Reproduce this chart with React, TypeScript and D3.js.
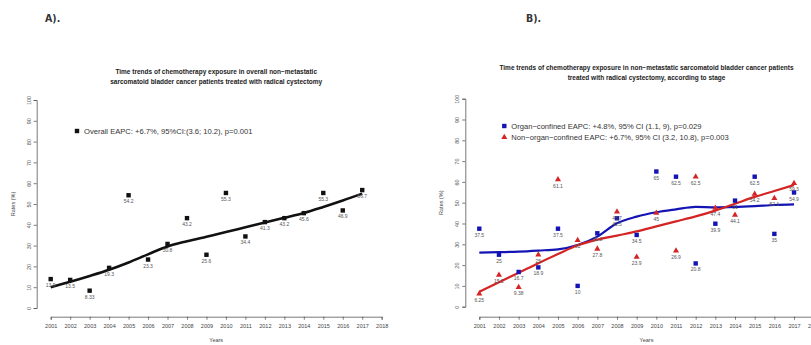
import { useEffect, useRef } from "react";
import * as d3 from "d3";

const svg_width = 811;
const svg_height = 345;

const years = d3.range(2001, 2018);
const x_ticks = d3.range(2001, 2019);
const y_ticks = d3.range(0, 101, 10);

// panel A: overall
const overall = [13.9, 13.5, 8.33, 19.3, 54.2, 23.3, 30.8, 43.2, 25.6, 55.3, 34.4, 41.3, 43.2, 45.6, 55.3, 46.9, 56.7];
const overall_fit = [10, 12.6, 15.4, 18.4, 21.9, 25.8, 29.6, 32.1, 34.3, 36.5, 38.8, 41.1, 43.4, 45.7, 48.6, 51.7, 55];

// panel B: by stage
const organ = [37.5, 25, 16.7, 18.9, 37.5, 10, 35.3, 42.5, 34.5, 65, 62.5, 20.8, 39.9, 51, 62.5, 35, 54.9];
const organ_fit = [26, 26.2, 26.5, 27, 27.6, 29.7, 33.7, 40.1, 43.3, 45.4, 46.8, 48, 47.8, 48, 48.4, 48.9, 49.2];
const non_organ = [6.25, 15.2, 9.38, 25, 61.1, 32, 27.8, 45.7, 23.9, 45, 26.9, 62.5, 47.4, 44.1, 54.2, 52.1, 59.3];
const non_organ_fit = [7.2, 11.8, 16.3, 20.9, 25.3, 29.5, 32.2, 34.2, 36.2, 38.6, 41, 43.4, 46.2, 49.5, 52.8, 55.6, 58.5];

const title_a = [
    "Time trends of chemotherapy exposure in overall non\u2212metastatic",
    "sarcomatoid bladder cancer patients treated with radical cystectomy",
];
const title_b = [
    "Time trends of chemotherapy exposure in non\u2212metastatic sarcomatoid bladder cancer patients",
    "treated with radical cystectomy, according to stage",
];
const legend_a = ["Overall EAPC: +6.7%,  95%CI:(3.6; 10.2), p=0.001"];
const legend_b = [
    "Organ\u2212confined EAPC: +4.8%,  95% CI (1.1, 9), p=0.029",
    "Non\u2212organ\u2212confined EAPC: +6.7%,  95% CI (3.2, 10.8), p=0.003",
];

const font = "'Liberation Sans', Arial, sans-serif";
const blue = "#1414b4";
const red = "#d42424";

interface Series {
    values: number[];
    fit: number[];
    color: string;
    shape: "square" | "triangle";
    lineWidth: number;
}

interface Panel {
    letter: string;
    letterX: number;
    x0: number;
    x1: number;
    y0: number;
    y1: number;
    title: string[];
    titleY: number;
    legend: string[];
    legendX: number;
    legendY: number;
    series: Series[];
}

const panels: Panel[] = [
    {
        letter: "A).", letterX: 45,
        x0: 50.7, x1: 381.7, y0: 308, y1: 100,
        title: title_a, titleY: 74,
        legend: legend_a, legendX: 77, legendY: 131,
        series: [{ values: overall, fit: overall_fit, color: "#111", shape: "square", lineWidth: 2.6 }],
    },
    {
        letter: "B).", letterX: 526,
        x0: 479.3, x1: 813.7, y0: 306.7, y1: 98.7,
        title: title_b, titleY: 70,
        legend: legend_b, legendX: 504.3, legendY: 126,
        series: [
            { values: organ, fit: organ_fit, color: blue, shape: "square", lineWidth: 2.2 },
            { values: non_organ, fit: non_organ_fit, color: red, shape: "triangle", lineWidth: 2.2 },
        ],
    },
];

function drawMarker(g: any, shape: string, cx: number, cy: number, color: string) {
    if (shape === "square") {
        g.append("rect")
            .attr("x", cx - 2.2).attr("y", cy - 2.2)
            .attr("width", 4.4).attr("height", 4.4)
            .attr("fill", color);
    } else {
        g.append("path")
            .attr("d", d3.symbol(d3.symbolTriangle, 16)())
            .attr("transform", `translate(${cx}, ${cy})`)
            .attr("fill", color);
    }
}

export default function App() {
    const ref = useRef(null);

    useEffect(() => {
        const svg = d3.select(ref.current)
            .append("svg")
                .attr("width", svg_width)
                .attr("height", svg_height)
                .style("background-color", "white")
                .style("display", "block")
                .style("font-family", font);

        panels.forEach((p) => {
            const x = d3.scaleLinear().domain([2001, 2018]).range([p.x0, p.x1]);
            const y = d3.scaleLinear().domain([0, 100]).range([p.y0, p.y1]);
            const cx = (p.x0 + p.x1) / 2;
            const g = svg.append("g");

            g.append("text")
                .attr("x", p.letterX).attr("y", 22)
                .attr("font-size", 10.5).attr("font-weight", "bold")
                .attr("fill", "#333")
                .attr("font-family", "'Liberation Sans Narrow', 'DejaVu Sans Condensed', sans-serif")
                .text(p.letter);

            // title
            p.title.forEach((t, i) => {
                g.append("text")
                    .attr("x", cx).attr("y", p.titleY + i * 9.5)
                    .attr("text-anchor", "middle")
                    .attr("font-size", 6.5).attr("font-weight", "bold")
                    .attr("fill", "#222")
                    .text(t);
            });

            // axes
            const xAxis = g.append("g")
                .attr("transform", `translate(0, ${316.7})`)
                .call(d3.axisBottom(x).tickValues(x_ticks).tickFormat(d3.format("d")).tickSize(3).tickSizeOuter(3));
            xAxis.selectAll("text").attr("font-size", 5.5).attr("fill", "#444").attr("dy", "0.9em");

            const yAxis = g.append("g")
                .attr("transform", `translate(${p.x0 - 14}, 0)`)
                .call(d3.axisLeft(y).tickValues(y_ticks).tickSize(3).tickSizeOuter(3));
            yAxis.selectAll("text")
                .attr("font-size", 5.5).attr("fill", "#555")
                .attr("x", -6).attr("y", 0).attr("dy", "0")
                .attr("transform", "rotate(-90, -6, 0)")
                .attr("text-anchor", "middle");
            g.selectAll(".domain, .tick line").attr("stroke", "#555").attr("stroke-width", 0.8);
            g.selectAll(".tick text").attr("font-family", font);

            g.append("text")
                .attr("x", cx).attr("y", 342)
                .attr("text-anchor", "middle")
                .attr("font-size", 5.5).attr("fill", "#444")
                .text("Years");
            g.append("text")
                .attr("transform", `translate(${p.x0 - 36}, ${(p.y0 + p.y1) / 2}) rotate(-90)`)
                .attr("text-anchor", "middle")
                .attr("font-size", 5.5).attr("fill", "#444")
                .text("Rates (%)");

            // fitted lines
            const line = d3.line<number>()
                .x((_, i) => x(years[i]))
                .y((d) => y(d))
                .curve(d3.curveMonotoneX);
            p.series.forEach((s) => {
                g.append("path")
                    .attr("d", line(s.fit))
                    .attr("fill", "none")
                    .attr("stroke", s.color)
                    .attr("stroke-width", s.lineWidth)
                    .attr("stroke-linejoin", "round");
            });

            // points with labels
            p.series.forEach((s) => {
                s.values.forEach((v, i) => {
                    drawMarker(g, s.shape, x(years[i]), y(v), s.color);
                    g.append("text")
                        .attr("x", x(years[i])).attr("y", y(v) + 8)
                        .attr("text-anchor", "middle")
                        .attr("font-size", 5).attr("fill", "#555")
                        .text(String(v));
                });
            });

            // legend
            p.legend.forEach((t, i) => {
                const ly = p.legendY + i * 11.3;
                drawMarker(g, p.series[i].shape, p.legendX, ly, p.series[i].color);
                g.append("text")
                    .attr("x", p.legendX + 7).attr("y", ly + 2.6)
                    .attr("font-size", 7.6).attr("fill", "#333")
                    .text(t);
            });
        });

        return () => {
            d3.select(ref.current).selectAll("*").remove();
        };
    }, [ref]);

    return (
        <div ref={ref} style={{ position: "absolute", left: 0, top: 0 }} />
    );
}
